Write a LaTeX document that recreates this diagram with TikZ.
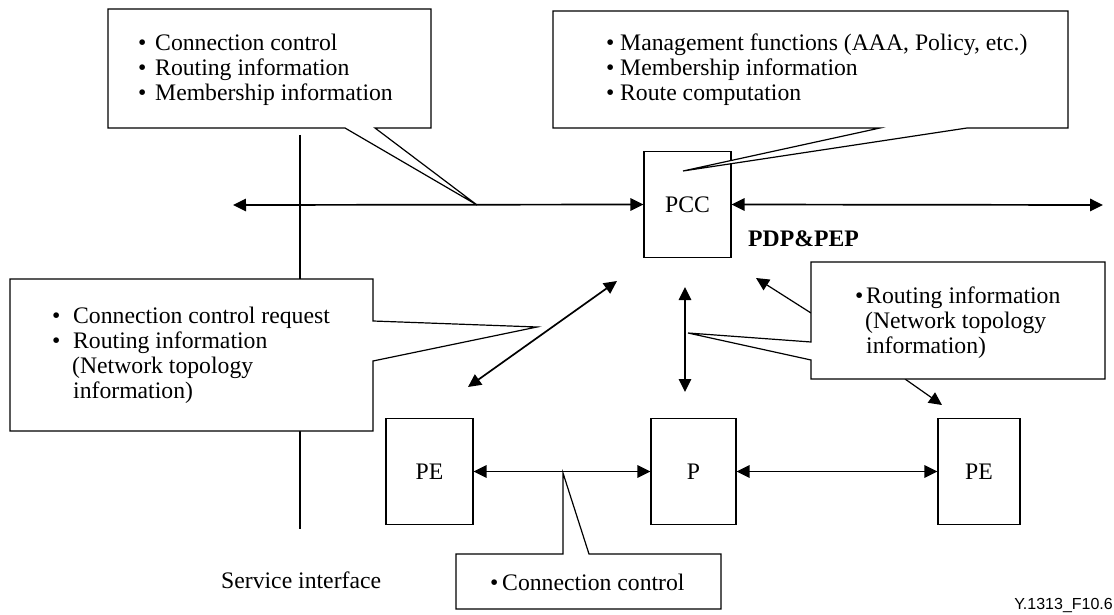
\documentclass[tikz,border=0pt]{standalone}
\usepackage{fontspec}
\setmainfont{Liberation Serif}
\newfontfamily\labelsans{Liberation Sans}
\usetikzlibrary{arrows.meta}
% bullet set in a box of the given width
\newcommand\bt[1]{\makebox[#1][l]{•}}
\begin{document}
\begin{tikzpicture}[x=1pt,y=-1pt,
  txt/.style={font=\fontsize{23.7}{25}\selectfont, inner sep=0pt, align=left},
  blk/.style={draw, line width=1.3pt, minimum height=106pt, inner sep=0pt,
              font=\fontsize{23.7}{25}\selectfont, fill=white},
  callout/.style={draw, line width=1.2pt, fill=white, line join=miter},
  link/.style={line width=1.7pt, {Triangle[length=13pt,width=12.5pt]}-{Triangle[length=13pt,width=12.5pt]}},
  onelink/.style={line width=1.2pt, -{Triangle[length=13pt,width=12.5pt]}},
]
\useasboundingbox (0,0) rectangle (1114,615);

% network elements
\node[blk, minimum width=87pt] (pcc) at (687.5,204.5) {PCC};
\node[blk, minimum width=87pt] (pel) at (429.5,471.5) {PE};
\node[blk, minimum width=85pt] (p)   at (693.5,471.5) {P};
\node[blk, minimum width=82pt] (per) at (979,471.5) {PE};

% service interface line
\coordinate (sitop) at (300,135);
\coordinate (sibot) at (300,529);
\draw[line width=2pt] (sitop) -- (sibot);

% free ends of the connectors
\coordinate (hl) at (233,205);
\coordinate (hr) at (1103,205);
\coordinate (da) at (617,281);
\coordinate (db) at (468,387);
\coordinate (va) at (685,287);
\coordinate (vb) at (685,392);
\coordinate (ra) at (811,313);
\coordinate (rat) at (756,278);
\coordinate (rb) at (905,379);
\coordinate (rbt) at (942,405);

\draw[link] (hl) -- (pcc.west);
\draw[link] (pcc.east) -- (hr);
\draw[link] (da) -- (db);
\draw[link] (va) -- (vb);
\draw[link] (pel.east) -- (p.west);
\draw[link] (p.east) -- (per.west);
\draw[onelink] (ra) -- (rat);
\draw[onelink] (rb) -- (rbt);

% callouts
\draw[callout] (108,9) -- (431,9) -- (431,128) -- (375,128) -- (477,205)
  -- (345,128) -- (108,128) -- cycle;
\draw[callout] (553,11) -- (1068,11) -- (1068,128) -- (967,128) -- (683,171)
  -- (880,128) -- (553,128) -- cycle;
\draw[callout] (10,279) -- (373,279) -- (373,321) -- (537,327) -- (373,361)
  -- (373,431) -- (10,431) -- cycle;
\draw[callout] (811,262) -- (1105,262) -- (1105,379) -- (811,379) -- (811,360)
  -- (688,333) -- (811,342) -- cycle;
\draw[callout] (456,554) -- (563,554) -- (563,473) -- (589,554) -- (721,554)
  -- (721,609) -- (456,609) -- cycle;

% texts (base anchor sits on the last line)
\node[txt, anchor=base west] (t1) at (138,101)
  {\bt{17pt}Connection control\\\bt{17pt}Routing information\\\bt{17pt}Membership information};
\node[txt, anchor=base west] (t2) at (606,101)
  {\bt{14pt}Management functions (AAA, Policy, etc.)\\\bt{14pt}Membership information\\\bt{14pt}Route computation};
\node[txt, anchor=base west] (t3) at (52,398)
  {\bt{21pt}Connection control request\\\bt{21pt}Routing information\\\hspace*{20pt}(Network topology\\\hspace*{21pt}information)};
\node[txt, anchor=base west] (t4) at (855,353)
  {\bt{11pt}Routing information\\\hspace*{10pt}(Network topology\\\hspace*{11pt}information)};
\node[txt, anchor=base west] (t5) at (490,590) {\bt{12pt}Connection control};

\node[txt, anchor=base west, font=\fontsize{23.7}{25}\selectfont\bfseries] (pdp) at (748,246) {PDP\&PEP};
\node[txt, anchor=base west] (si) at (221,588) {Service interface};
\node[inner sep=0pt, anchor=base east, font=\labelsans\fontsize{16}{18}\selectfont] (fig) at (1113,609) {Y.1313\_F10.6};
\end{tikzpicture}
\end{document}
